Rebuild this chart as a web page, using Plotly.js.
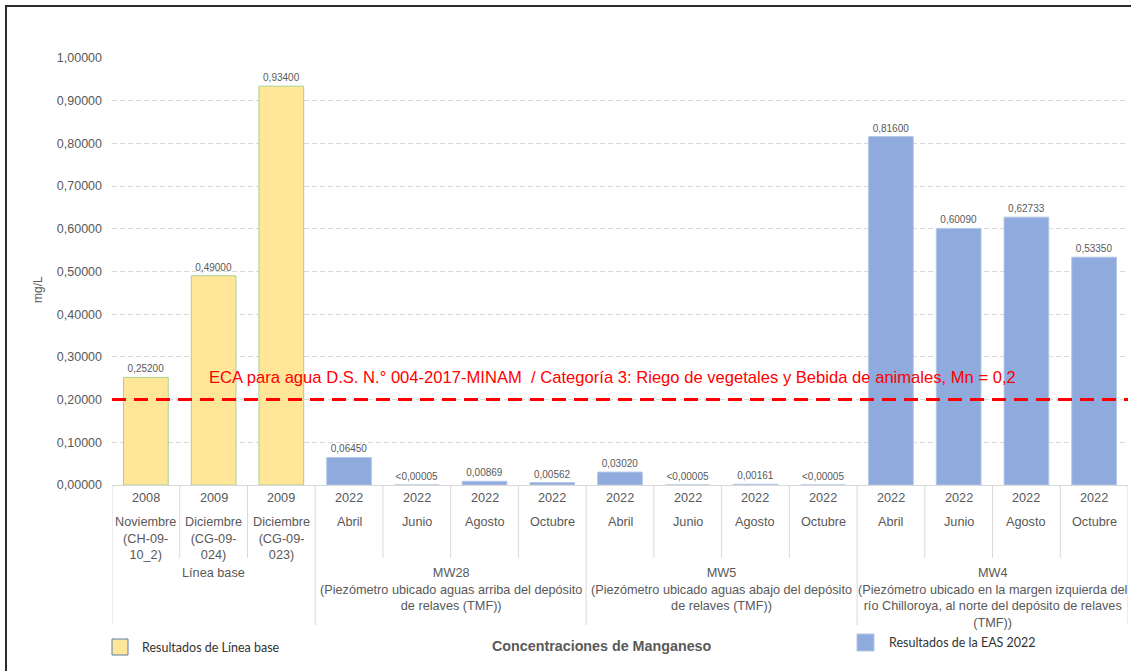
<!DOCTYPE html>
<html>
<head>
<meta charset="utf-8">
<script src="https://cdn.plot.ly/plotly-3.0.1.min.js"></script>
<style>
  html, body { margin: 0; padding: 0; background: #fff; }
  #chart { width: 1131px; height: 671px; position: relative; }
  #frame { position: absolute; left: 5px; top: 5px; width: 1300px; height: 800px;
           border-left: 2px solid #2b2b2b; border-top: 2px solid #2b2b2b; pointer-events: none; }
</style>
</head>
<body>
<div id="chart"></div>
<div id="frame"></div>
<script>
// Manganese concentrations (mg/L) per sampling point and campaign
const years = ['2008', '2009', '2009',
               '2022', '2022', '2022', '2022',
               '2022', '2022', '2022', '2022',
               '2022', '2022', '2022', '2022'];
const months = ['Noviembre<br>(CH-09-<br>10_2)', 'Diciembre<br>(CG-09-<br>024)', 'Diciembre<br>(CG-09-<br>023)',
                'Abril', 'Junio', 'Agosto', 'Octubre',
                'Abril', 'Junio', 'Agosto', 'Octubre',
                'Abril', 'Junio', 'Agosto', 'Octubre'];
const groupLabels = ['Línea base',
                     'MW28<br>(Piezómetro ubicado aguas arriba del depósito<br>de relaves (TMF))',
                     'MW5<br>(Piezómetro ubicado aguas abajo del depósito<br>de relaves (TMF))',
                     'MW4<br>(Piezómetro ubicado en la margen izquierda del<br>río Chilloroya, al norte del depósito de relaves<br>(TMF))'];
const groupSizes = [3, 4, 4, 4];

const baseValues = [0.252, 0.49, 0.934];
const easValues = [0.0645, 0.00005, 0.00869, 0.00562,
                   0.0302, 0.00005, 0.00161, 0.00005,
                   0.816, 0.6009, 0.62733, 0.5335];
const easBelowLimit = [false, true, false, false,
                       false, true, false, true,
                       false, false, false, false];
const ecaLimit = 0.2;
const ecaLabel = 'ECA para agua D.S. N.° 004-2017-MINAM \u00a0/ Categoría 3: Riego de vegetales y Bebida de animales, Mn = 0,2';

const grey = '#595959';
const fmt = v => v.toFixed(5).replace('.', ',');
const axisFont = 'Liberation Sans, Arial, sans-serif';

// plot box in pixels: x 112..1128, y 58..485
const plotLeft = 112, plotRight = 1128, plotTop = 58, plotBottom = 485;
const px = p => (p - plotLeft) / (plotRight - plotLeft);
const py = p => (plotBottom - p) / (plotBottom - plotTop);

const baseX = baseValues.map((_, i) => i);
const easX = easValues.map((_, i) => i + baseValues.length);

const baseStyle = { color: '#FFE699', line: { color: '#A9D18E', width: 1 } };
const easStyle = { color: '#8FAADC', line: { color: '#B4C7E7', width: 1 } };

const traces = [
  {
    type: 'bar', name: 'Resultados de Línea base', x: baseX, y: baseValues,
    width: 0.66, marker: baseStyle,
    text: baseValues.map(fmt), textposition: 'outside', constraintext: 'none',
    textfont: { family: axisFont, size: 10, color: grey },
    cliponaxis: false, hoverinfo: 'y', showlegend: false
  },
  {
    type: 'bar', name: 'Resultados de la EAS 2022', x: easX, y: easValues,
    width: 0.66, marker: easStyle,
    text: easValues.map((v, i) => easBelowLimit[i] ? '<' + fmt(v) : fmt(v)),
    textposition: 'outside', constraintext: 'none',
    textfont: { family: axisFont, size: 10, color: grey },
    cliponaxis: false, hoverinfo: 'y', showlegend: false
  }
];

const n = years.length;
const annotations = [];
const shapes = [];
const catFont = { family: axisFont, size: 12.7, color: grey };

// category table: years and months
for (let i = 0; i < n; i++) {
  annotations.push({ x: i, y: py(498), xref: 'x', yref: 'paper', text: years[i],
    showarrow: false, xanchor: 'center', yanchor: 'middle', font: catFont });
  annotations.push({ x: i, y: py(513), xref: 'x', yref: 'paper', text: months[i],
    showarrow: false, xanchor: 'center', yanchor: 'top', font: catFont });
}

// group labels and separators
let start = 0;
const boundaries = [-0.5];
groupSizes.forEach((size, g) => {
  const center = start + (size - 1) / 2;
  annotations.push({ x: center, y: py(564), xref: 'x', yref: 'paper', text: groupLabels[g],
    showarrow: false, xanchor: 'center', yanchor: 'top', font: catFont });
  start += size;
  boundaries.push(start - 0.5);
});
for (let i = 0; i <= n; i++) {
  const b = i - 0.5;
  const long = boundaries.includes(b);
  shapes.push({ type: 'line', xref: 'x', yref: 'paper', x0: b, x1: b,
    y0: 0, y1: long ? py(625) : py(558),
    line: { color: '#D9D9D9', width: 1 } });
}

// ECA threshold
shapes.push({ type: 'line', xref: 'paper', yref: 'y', x0: 0, x1: 1, y0: ecaLimit, y1: ecaLimit,
  line: { color: '#FF0000', width: 3, dash: '14px,8px' } });
annotations.push({ x: 0.9, y: ecaLimit, xref: 'x', yref: 'y', text: ecaLabel,
  showarrow: false, xanchor: 'left', yanchor: 'bottom', yshift: 11,
  font: { family: axisFont, size: 16.6, color: '#FF0000' } });

// axis title and chart caption
annotations.push({ x: px(38), y: py(290), xref: 'paper', yref: 'paper', text: 'mg/L',
  showarrow: false, textangle: -90, xanchor: 'center', yanchor: 'middle',
  font: { family: axisFont, size: 12, color: grey } });
annotations.push({ x: px(602), y: py(646), xref: 'paper', yref: 'paper',
  text: '<b>Concentraciones de Manganeso</b>', showarrow: false,
  xanchor: 'center', yanchor: 'middle',
  font: { family: axisFont, size: 14.3, color: grey } });

// legend keys
const legendFont = { family: 'Lato, Open Sans, sans-serif', size: 12.5, color: '#333333' };
const legendItems = [
  { name: traces[0].name, fill: baseStyle.color, edge: '#5A7FA8', box: [112, 639, 128, 655], textX: 140, textY: 647 },
  { name: traces[1].name, fill: easStyle.color, edge: '#B4C7E7', box: [857, 634, 874, 651], textX: 887, textY: 642 }
];
legendItems.forEach(it => {
  shapes.push({ type: 'rect', xref: 'paper', yref: 'paper',
    x0: px(it.box[0]), x1: px(it.box[2]), y0: py(it.box[3]), y1: py(it.box[1]),
    fillcolor: it.fill, line: { color: it.edge, width: 1 } });
  annotations.push({ x: px(it.textX), y: py(it.textY), xref: 'paper', yref: 'paper',
    text: it.name, showarrow: false, xanchor: 'left', yanchor: 'middle', font: legendFont });
});

const layout = {
  width: 1131, height: 671,
  margin: { l: plotLeft, r: 1131 - plotRight, t: plotTop, b: 671 - plotBottom },
  paper_bgcolor: '#ffffff', plot_bgcolor: '#ffffff',
  separators: ', ',
  showlegend: false,
  xaxis: { range: [-0.5, n - 0.5], showticklabels: false, showgrid: false, zeroline: false,
           showline: true, linecolor: '#D9D9D9', linewidth: 1, fixedrange: true },
  yaxis: { range: [0, 1], dtick: 0.1, tickformat: '.5f', showgrid: true,
           gridcolor: '#D9D9D9', griddash: '5px,3px', gridwidth: 1, zeroline: false,
           showline: false, ticks: '', ticklabelstandoff: 9,
           tickfont: { family: axisFont, size: 12.5, color: grey }, fixedrange: true },
  annotations: annotations,
  shapes: shapes
};

Plotly.newPlot('chart', traces, layout, { displayModeBar: false, staticPlot: true });
</script>
</body>
</html>
